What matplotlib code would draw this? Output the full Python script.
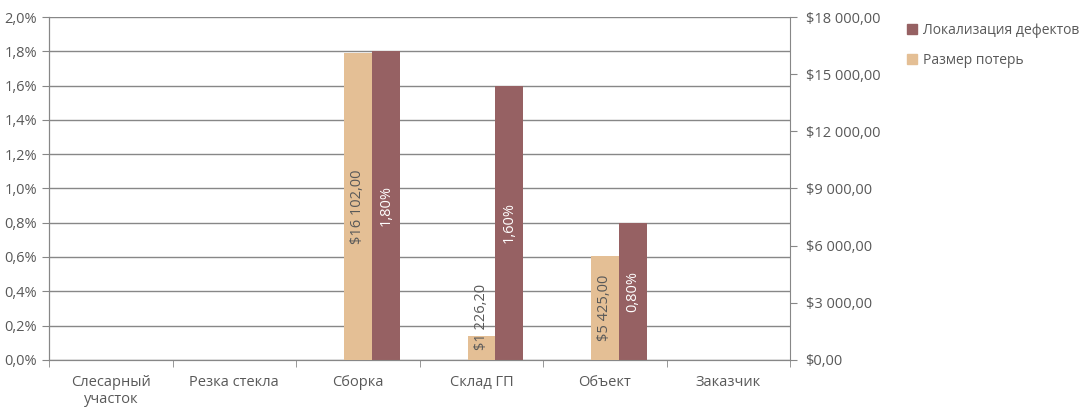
import matplotlib.pyplot as plt
import numpy as np
from matplotlib.patches import Patch

plt.rcParams['font.family'] = ['Open Sans', 'DejaVu Sans']

# data
categories = ['Слесарный\nучасток', 'Резка стекла', 'Сборка', 'Склад ГП', 'Объект', 'Заказчик']
defects = [0.0, 0.0, 1.8, 1.6, 0.8, 0.0]          # %
losses = [0.0, 0.0, 16102.00, 1226.20, 5425.00, 0.0]  # $

brown = '#966163'
tan = '#e4bf95'
grey_txt = '#595959'
grey_line = '#878787'


def money(v):
    s = f'{v:,.2f}'.replace(',', ' ').replace('.', ',')
    return '$' + s


fig = plt.figure(figsize=(10.9, 4.15), dpi=100)
ax = fig.add_axes([0.045, 0.133, 0.680, 0.826])
ax2 = ax.twinx()

x = np.arange(len(categories))
w = 0.225

ax.bar(x + w, defects, w, color=brown, zorder=3)
ax2.bar(x, losses, w, color=tan, zorder=3)

ax.set_xlim(-0.5, len(categories) - 0.5)
ax.set_ylim(0, 2.0)
ax2.set_ylim(0, 18000)

ax.set_yticks(np.arange(0, 2.01, 0.2))
ax.set_yticklabels([f'{v:.1f}%'.replace('.', ',') for v in np.arange(0, 2.01, 0.2)])
ax2.set_yticks(np.arange(0, 18001, 3000))
ax2.set_yticklabels([money(v) for v in np.arange(0, 18001, 3000)])

ax.yaxis.grid(True, color=grey_line, lw=1)
ax.set_axisbelow(True)

ax.set_xticks(x)
ax.set_xticklabels(categories, color=grey_txt, fontsize=10.5)
ax.set_xticks(np.arange(-0.5, len(categories)), minor=True)
ax.tick_params(axis='x', which='major', length=0, pad=11)
ax.tick_params(axis='x', which='minor', length=5, color=grey_line, direction='out')
ax.tick_params(axis='y', length=5, color=grey_line, labelcolor=grey_txt, labelsize=10.5)
ax2.tick_params(axis='y', length=5, color=grey_line, labelcolor=grey_txt, labelsize=10.5, pad=6)

for a in (ax, ax2):
    a.spines['top'].set_visible(False)
    for s in ('left', 'right', 'bottom'):
        a.spines[s].set_color(grey_line)
ax.spines['right'].set_visible(False)

# value labels
for xi, v in zip(x, defects):
    if v > 0:
        ax.text(xi + w, v / 2, f'{v:.2f}%'.replace('.', ','), rotation=90,
                ha='center', va='center', color='white', fontsize=10.5, zorder=5)
for xi, v in zip(x, losses):
    if v > 0:
        if v > 3000:
            ax2.text(xi, v / 2, money(v), rotation=90, ha='center', va='center',
                     color=grey_txt, fontsize=10.5, zorder=5)
        else:
            ax2.text(xi, v * 0.4, money(v), rotation=90, ha='center', va='bottom',
                     color=grey_txt, fontsize=10.5, zorder=5)

handles = [Patch(color=brown, label='Локализация дефектов'),
           Patch(color=tan, label='Размер потерь')]
fig.legend(handles=handles, loc='upper left', bbox_to_anchor=(0.821, 0.975),
           frameon=False, fontsize=10, handlelength=0.7, handleheight=0.7,
           handletextpad=0.4, labelspacing=1.1, labelcolor=grey_txt)

fig.savefig('out.png', dpi=100)
